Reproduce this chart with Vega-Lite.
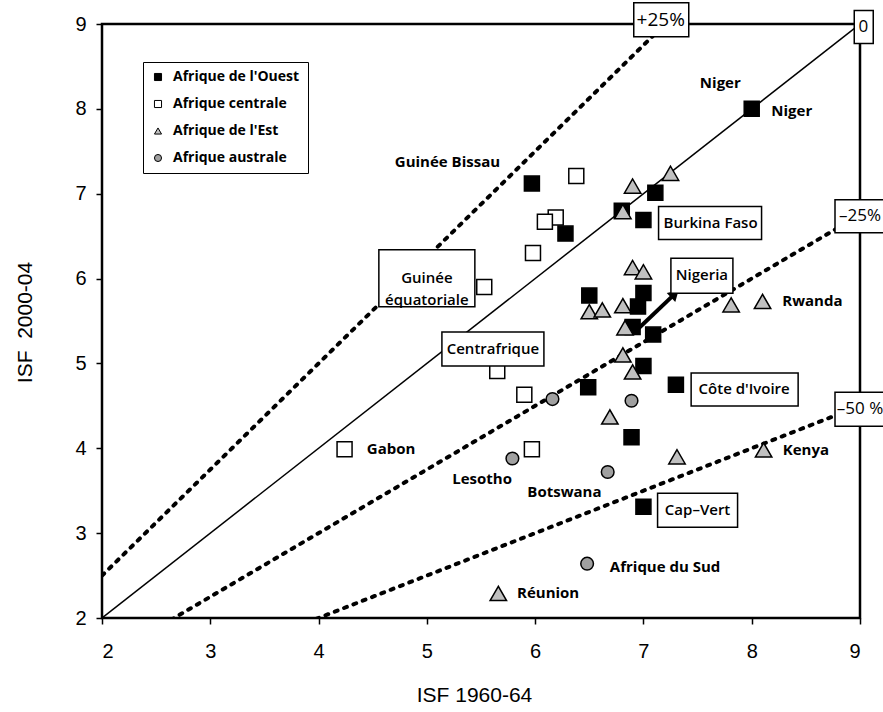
{
  "$schema": "https://vega.github.io/schema/vega-lite/v6.json",
  "width": 758,
  "height": 594,
  "autosize": {"type": "none"},
  "padding": {"left": 102, "top": 24, "right": 23, "bottom": 94},
  "background": "white",
  "config": {
    "view": {"stroke": "black", "strokeWidth": 2.5},
    "axis": {
      "grid": false, "domain": false,
      "labelFont": "Liberation Sans", "labelFontSize": 20, "labelColor": "black",
      "tickColor": "black", "tickSize": 6, "tickWidth": 1.5,
      "titleFont": "Liberation Sans", "titleFontSize": 21, "titleFontWeight": "normal", "titleColor": "black"
    },
    "legend": {
      "orient": "none", "legendX": 41, "legendY": 38,
      "strokeColor": "black", "fillColor": "white", "padding": 8,
      "labelFont": "Open Sans", "labelFontSize": 14, "labelFontWeight": "bold", "labelColor": "black",
      "symbolSize": 50, "symbolStrokeColor": "black", "symbolStrokeWidth": 1,
      "rowPadding": 13, "labelOffset": 8
    }
  },
  "datasets": {
    "points": [
      {"region": "Afrique de l'Ouest", "x": 8.0, "y": 8.0},
      {"region": "Afrique de l'Ouest", "x": 5.97, "y": 7.12},
      {"region": "Afrique de l'Ouest", "x": 7.11, "y": 7.01},
      {"region": "Afrique de l'Ouest", "x": 7.0, "y": 6.69},
      {"region": "Afrique de l'Ouest", "x": 6.8, "y": 6.8},
      {"region": "Afrique de l'Ouest", "x": 6.28, "y": 6.53},
      {"region": "Afrique de l'Ouest", "x": 6.5, "y": 5.8},
      {"region": "Afrique de l'Ouest", "x": 7.0, "y": 5.83},
      {"region": "Afrique de l'Ouest", "x": 6.95, "y": 5.67},
      {"region": "Afrique de l'Ouest", "x": 6.9, "y": 5.43},
      {"region": "Afrique de l'Ouest", "x": 7.09, "y": 5.34},
      {"region": "Afrique de l'Ouest", "x": 7.0, "y": 4.97},
      {"region": "Afrique de l'Ouest", "x": 6.49, "y": 4.72},
      {"region": "Afrique de l'Ouest", "x": 7.3, "y": 4.75},
      {"region": "Afrique de l'Ouest", "x": 6.89, "y": 4.13},
      {"region": "Afrique de l'Ouest", "x": 7.0, "y": 3.31},
      {"region": "Afrique centrale", "x": 6.38, "y": 7.21},
      {"region": "Afrique centrale", "x": 6.19, "y": 6.72},
      {"region": "Afrique centrale", "x": 6.09, "y": 6.67},
      {"region": "Afrique centrale", "x": 5.98, "y": 6.3},
      {"region": "Afrique centrale", "x": 5.53, "y": 5.9},
      {"region": "Afrique centrale", "x": 5.65, "y": 4.91},
      {"region": "Afrique centrale", "x": 5.9, "y": 4.63},
      {"region": "Afrique centrale", "x": 5.97, "y": 3.99},
      {"region": "Afrique centrale", "x": 4.24, "y": 3.99},
      {"region": "Afrique australe", "x": 6.16, "y": 4.58},
      {"region": "Afrique australe", "x": 6.89, "y": 4.56},
      {"region": "Afrique australe", "x": 5.79, "y": 3.88},
      {"region": "Afrique australe", "x": 6.67, "y": 3.72},
      {"region": "Afrique australe", "x": 6.48, "y": 2.64},
      {"region": "Afrique de l'Est", "x": 7.25, "y": 7.24},
      {"region": "Afrique de l'Est", "x": 6.9, "y": 7.09},
      {"region": "Afrique de l'Est", "x": 6.81, "y": 6.79},
      {"region": "Afrique de l'Est", "x": 6.9, "y": 6.13},
      {"region": "Afrique de l'Est", "x": 7.0, "y": 6.08},
      {"region": "Afrique de l'Est", "x": 6.5, "y": 5.61},
      {"region": "Afrique de l'Est", "x": 6.62, "y": 5.63},
      {"region": "Afrique de l'Est", "x": 6.81, "y": 5.68},
      {"region": "Afrique de l'Est", "x": 6.83, "y": 5.42},
      {"region": "Afrique de l'Est", "x": 7.81, "y": 5.69},
      {"region": "Afrique de l'Est", "x": 8.1, "y": 5.73},
      {"region": "Afrique de l'Est", "x": 6.81, "y": 5.1},
      {"region": "Afrique de l'Est", "x": 6.9, "y": 4.9},
      {"region": "Afrique de l'Est", "x": 6.69, "y": 4.37},
      {"region": "Afrique de l'Est", "x": 7.31, "y": 3.9},
      {"region": "Afrique de l'Est", "x": 8.11, "y": 3.98},
      {"region": "Afrique de l'Est", "x": 5.66, "y": 2.29}
    ],
    "refs": [
      {"line": "0", "x": 2, "y": 2}, {"line": "0", "x": 9, "y": 9},
      {"line": "+25%", "x": 2, "y": 2.5}, {"line": "+25%", "x": 7.2, "y": 9},
      {"line": "-25%", "x": 2, "y": 1.5}, {"line": "-25%", "x": 9, "y": 6.75},
      {"line": "-50%", "x": 2, "y": 1}, {"line": "-50%", "x": 9, "y": 4.5}
    ],
    "arrow": [{"x": 6.92, "y": 5.37, "x2": 7.29, "y2": 5.82}],
    "labels": [
      {"label": "+25%", "x": 7.16, "y": 9.05, "kind": "pct"},
      {"label": "0", "x": 9.03, "y": 8.97, "kind": "pct"},
      {"label": "–25%", "x": 9.0, "y": 6.74, "kind": "pct"},
      {"label": "–50 %", "x": 9.0, "y": 4.46, "kind": "pct"},
      {"label": "Niger", "x": 7.71, "y": 8.31, "kind": "plain"},
      {"label": "Niger", "x": 8.37, "y": 7.97, "kind": "plain"},
      {"label": "Guinée Bissau", "x": 5.19, "y": 7.37, "kind": "plain"},
      {"label": "Burkina Faso", "x": 7.62, "y": 6.66, "kind": "box"},
      {"label": "Guinée\néquatoriale", "x": 5.0, "y": 6.01, "kind": "box"},
      {"label": "Centrafrique", "x": 5.61, "y": 5.17, "kind": "box"},
      {"label": "Nigeria", "x": 7.54, "y": 6.04, "kind": "box"},
      {"label": "Rwanda", "x": 8.56, "y": 5.73, "kind": "plain"},
      {"label": "Côte d'Ivoire", "x": 7.93, "y": 4.7, "kind": "box"},
      {"label": "Kenya", "x": 8.5, "y": 3.98, "kind": "plain"},
      {"label": "Gabon", "x": 4.67, "y": 3.99, "kind": "plain"},
      {"label": "Lesotho", "x": 5.51, "y": 3.64, "kind": "plain"},
      {"label": "Botswana", "x": 6.27, "y": 3.49, "kind": "plain"},
      {"label": "Cap–Vert", "x": 7.5, "y": 3.27, "kind": "box"},
      {"label": "Afrique du Sud", "x": 7.2, "y": 2.6, "kind": "plain"},
      {"label": "Réunion", "x": 6.12, "y": 2.29, "kind": "plain"}
    ]
  },
  "encoding": {
    "x": {
      "field": "x", "type": "quantitative",
      "scale": {"domain": [2, 9], "nice": false, "zero": false},
      "axis": {"values": [2, 3, 4, 5, 6, 7, 8, 9], "title": "ISF 1960-64", "labelPadding": 17,
               "titleX": 372, "titleY": 77, "titleBaseline": "middle", "titleAlign": "center"}
    },
    "y": {
      "field": "y", "type": "quantitative",
      "scale": {"domain": [2, 9], "nice": false, "zero": false},
      "axis": {"values": [2, 3, 4, 5, 6, 7, 8, 9], "title": "ISF\u00a0 2000-04", "labelPadding": 10,
               "titleX": -77, "titleY": 298, "titleBaseline": "middle", "titleAlign": "center", "titleAngle": -90}
    }
  },
  "layer": [
    {
      "data": {"name": "refs"},
      "transform": [{"filter": {"field": "line", "equal": "0"}}],
      "mark": {"type": "line", "color": "black", "strokeWidth": 1.5, "clip": true},
      "encoding": {"detail": {"field": "line", "type": "nominal"}}
    },
    {
      "data": {"name": "refs"},
      "transform": [{"filter": "datum.line !== '0'"}],
      "mark": {"type": "line", "color": "black", "strokeWidth": 4, "strokeDash": [3, 7], "strokeCap": "round", "clip": true},
      "encoding": {"detail": {"field": "line", "type": "nominal"}}
    },
    {
      "data": {"name": "arrow"},
      "mark": {"type": "rule", "color": "black", "strokeWidth": 4},
      "encoding": {
        "x2": {"field": "x2"},
        "y2": {"field": "y2"}
      }
    },
    {
      "data": {"name": "arrow"},
      "mark": {"type": "point", "shape": "triangle-up", "angle": 46, "filled": true, "color": "black", "opacity": 1, "size": 150},
      "encoding": {
        "x": {"field": "x2", "type": "quantitative", "title": "ISF 1960-64"},
        "y": {"field": "y2", "type": "quantitative", "title": "ISF\u00a0 2000-04"}
      }
    },
    {
      "data": {"name": "points"},
      "transform": [{"filter": {"field": "region", "oneOf": ["Afrique de l'Ouest", "Afrique centrale"]}}],
      "mark": {"type": "point", "filled": true, "strokeWidth": 1.5, "opacity": 1, "size": 225},
      "encoding": {
        "shape": {"field": "region", "type": "nominal", "title": null,
          "scale": {"domain": ["Afrique de l'Ouest", "Afrique centrale", "Afrique de l'Est", "Afrique australe"],
                    "range": ["square", "square", "triangle-up", "circle"]}},
        "fill": {"field": "region", "type": "nominal", "title": null,
          "scale": {"domain": ["Afrique de l'Ouest", "Afrique centrale", "Afrique de l'Est", "Afrique australe"],
                    "range": ["#000000", "#ffffff", "#c0c0c0", "#a0a0a0"]}},
        "stroke": {"field": "region", "type": "nominal", "title": null,
          "scale": {"domain": ["Afrique de l'Ouest", "Afrique centrale", "Afrique de l'Est", "Afrique australe"],
                    "range": ["#000000", "#000000", "#000000", "#000000"]}}
      }
    },
    {
      "data": {"name": "points"},
      "transform": [{"filter": {"field": "region", "equal": "Afrique australe"}}],
      "mark": {"type": "point", "filled": true, "strokeWidth": 1.5, "opacity": 1, "size": 160},
      "encoding": {
        "shape": {"field": "region", "type": "nominal", "title": null},
        "fill": {"field": "region", "type": "nominal", "title": null},
        "stroke": {"field": "region", "type": "nominal", "title": null}
      }
    },
    {
      "data": {"name": "points"},
      "transform": [{"filter": {"field": "region", "equal": "Afrique de l'Est"}}],
      "mark": {"type": "point", "filled": true, "strokeWidth": 1.5, "opacity": 1, "size": 270},
      "encoding": {
        "shape": {"field": "region", "type": "nominal", "title": null},
        "fill": {"field": "region", "type": "nominal", "title": null},
        "stroke": {"field": "region", "type": "nominal", "title": null}
      }
    },
    {
      "data": {"name": "labels"},
      "transform": [{"filter": {"field": "label", "equal": "+25%"}}],
      "mark": {"type": "rect", "fill": "white", "stroke": "black", "strokeWidth": 1.5, "xOffset": -27, "x2Offset": 28, "yOffset": -17, "y2Offset": 17},
      "encoding": {"x2": {"field": "x"}, "y2": {"field": "y"}}
    },
    {
      "data": {"name": "labels"},
      "transform": [{"filter": {"field": "label", "equal": "0"}}],
      "mark": {"type": "rect", "fill": "white", "stroke": "black", "strokeWidth": 1.5, "xOffset": -9, "x2Offset": 10, "yOffset": -16, "y2Offset": 17},
      "encoding": {"x2": {"field": "x"}, "y2": {"field": "y"}}
    },
    {
      "data": {"name": "labels"},
      "transform": [{"filter": {"field": "label", "equal": "–25%"}}],
      "mark": {"type": "rect", "fill": "white", "stroke": "black", "strokeWidth": 1.5, "xOffset": -25, "x2Offset": 25, "yOffset": -16, "y2Offset": 17},
      "encoding": {"x2": {"field": "x"}, "y2": {"field": "y"}}
    },
    {
      "data": {"name": "labels"},
      "transform": [{"filter": {"field": "label", "equal": "–50 %"}}],
      "mark": {"type": "rect", "fill": "white", "stroke": "black", "strokeWidth": 1.5, "xOffset": -25, "x2Offset": 25, "yOffset": -17, "y2Offset": 17},
      "encoding": {"x2": {"field": "x"}, "y2": {"field": "y"}}
    },
    {
      "data": {"name": "labels"},
      "transform": [{"filter": {"field": "label", "equal": "Burkina Faso"}}],
      "mark": {"type": "rect", "fill": "white", "stroke": "black", "strokeWidth": 1.5, "xOffset": -52, "x2Offset": 51, "yOffset": -16, "y2Offset": 17},
      "encoding": {"x2": {"field": "x"}, "y2": {"field": "y"}}
    },
    {
      "data": {"name": "labels"},
      "transform": [{"filter": {"field": "label", "equal": "Guinée\néquatoriale"}}],
      "mark": {"type": "rect", "fill": "white", "stroke": "black", "strokeWidth": 1.5, "xOffset": -48, "x2Offset": 48, "yOffset": -28, "y2Offset": 29},
      "encoding": {"x2": {"field": "x"}, "y2": {"field": "y"}}
    },
    {
      "data": {"name": "labels"},
      "transform": [{"filter": {"field": "label", "equal": "Centrafrique"}}],
      "mark": {"type": "rect", "fill": "white", "stroke": "black", "strokeWidth": 1.5, "xOffset": -51, "x2Offset": 51, "yOffset": -17, "y2Offset": 17},
      "encoding": {"x2": {"field": "x"}, "y2": {"field": "y"}}
    },
    {
      "data": {"name": "labels"},
      "transform": [{"filter": {"field": "label", "equal": "Nigeria"}}],
      "mark": {"type": "rect", "fill": "white", "stroke": "black", "strokeWidth": 1.5, "xOffset": -31, "x2Offset": 31, "yOffset": -17, "y2Offset": 18},
      "encoding": {"x2": {"field": "x"}, "y2": {"field": "y"}}
    },
    {
      "data": {"name": "labels"},
      "transform": [{"filter": {"field": "label", "equal": "Côte d'Ivoire"}}],
      "mark": {"type": "rect", "fill": "white", "stroke": "black", "strokeWidth": 1.5, "xOffset": -53, "x2Offset": 54, "yOffset": -16, "y2Offset": 17},
      "encoding": {"x2": {"field": "x"}, "y2": {"field": "y"}}
    },
    {
      "data": {"name": "labels"},
      "transform": [{"filter": {"field": "label", "equal": "Cap–Vert"}}],
      "mark": {"type": "rect", "fill": "white", "stroke": "black", "strokeWidth": 1.5, "xOffset": -40, "x2Offset": 40, "yOffset": -17, "y2Offset": 17},
      "encoding": {"x2": {"field": "x"}, "y2": {"field": "y"}}
    },
    {
      "data": {"name": "labels"},
      "transform": [{"filter": {"field": "kind", "equal": "plain"}}],
      "mark": {"type": "text", "font": "Open Sans", "fontSize": 15, "fontWeight": "bold", "color": "black", "align": "center", "baseline": "middle"},
      "encoding": {"text": {"field": "label", "type": "nominal"}}
    },
    {
      "data": {"name": "labels"},
      "transform": [{"filter": {"field": "kind", "equal": "box"}}],
      "mark": {"type": "text", "font": "Open Sans", "fontSize": 15, "fontWeight": 600, "color": "black", "align": "center", "baseline": "middle", "lineBreak": "\n", "lineHeight": 22},
      "encoding": {"text": {"field": "label", "type": "nominal"}}
    },
    {
      "data": {"name": "labels"},
      "transform": [{"filter": {"field": "label", "oneOf": ["0", "–25%", "–50 %"]}}],
      "mark": {"type": "text", "font": "Open Sans", "fontSize": 17, "fontWeight": "normal", "color": "black", "align": "center", "baseline": "middle"},
      "encoding": {"text": {"field": "label", "type": "nominal"}}
    },
    {
      "data": {"name": "labels"},
      "transform": [{"filter": {"field": "label", "equal": "+25%"}}],
      "mark": {"type": "text", "font": "Open Sans", "fontSize": 19, "fontWeight": "normal", "color": "black", "align": "center", "baseline": "middle"},
      "encoding": {"text": {"field": "label", "type": "nominal"}}
    }
  ]
}
